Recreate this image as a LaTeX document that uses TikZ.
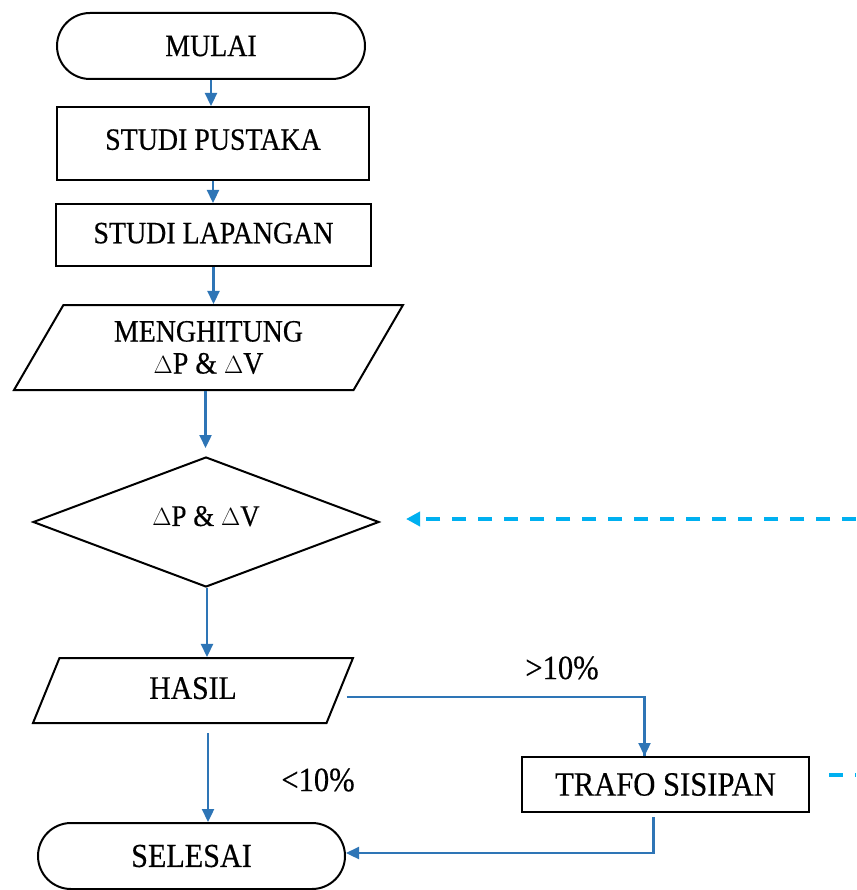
\documentclass[tikz,border=0pt]{standalone}
\usepackage{fontspec}
\setmainfont{Liberation Serif}[FakeStretch=0.9,FakeBold=0.4]
\usetikzlibrary{arrows.meta,shapes.geometric,shapes.misc}
\definecolor{flowblue}{RGB}{46,117,182}
\definecolor{dashblue}{RGB}{0,176,240}
\newcommand{\fsz}[1]{\fontsize{#1}{32}\selectfont}
\begin{document}
\begin{tikzpicture}[x=1pt,y=-1pt,
  every node/.style={font=\fsz{31}},
  box/.style={draw=black,line width=2pt,inner sep=0pt,align=center},
  stadium/.style={box,rectangle,rounded corners=33pt},
  para/.style={box,trapezium,trapezium stretches body},
  decision/.style={box,diamond,shape aspect=2.7},
  arr/.style={draw=flowblue,line width=2.3pt,-{Triangle[length=13pt,width=12pt]}},
  flow/.style={draw=flowblue,line width=2.3pt},
  dashline/.style={draw=dashblue,line width=3.5pt,dash pattern=on 14pt off 12pt},
  dasharr/.style={dashline,-{Triangle[length=14pt,width=14pt]}},
  lbl/.style={inner sep=0pt,font=\fsz{34}}
]
\useasboundingbox (0,0) rectangle (856,890);
\fill[white] (0,0) rectangle (856,890);

\node[stadium,minimum width=308pt,minimum height=66pt] (mulai) at (211,46) {MULAI};
\node[box,rectangle,minimum width=312pt,minimum height=73pt] (pustaka) at (213,143.5) {\raisebox{8pt}{STUDI PUSTAKA}};
\node[box,rectangle,minimum width=315pt,minimum height=62pt] (lapangan) at (213.5,235) {\raisebox{4pt}{STUDI LAPANGAN}};
\node[para,trapezium left angle=47,trapezium right angle=133,minimum width=389pt,minimum height=85pt] (hitung) at (208.5,347.5) {MENGHITUNG\\$\Delta$P \& $\Delta$V};
\node[decision,minimum width=346pt,minimum height=130pt,font=\fsz{30}] (cek) at (206,522) {\raisebox{12pt}{$\Delta$P \& $\Delta$V}};
\node[para,trapezium left angle=45.4,trapezium right angle=134.6,minimum width=320pt,minimum height=65pt,font=\fsz{33}] (hasil) at (193,690.5) {\raisebox{5pt}{HASIL}};
\node[stadium,minimum width=307pt,minimum height=66pt,font=\fsz{33.5}] (selesai) at (191.5,856) {SELESAI};
\node[box,rectangle,minimum width=287pt,minimum height=55pt,font=\fsz{34}] (trafo) at (665.5,784.5) {TRAFO SISIPAN};

\node[lbl] (gt) at (562,668) {>10\%};
\node[lbl] (lt) at (318,780) {<10\%};

\coordinate (edgeA) at (856,775);
\coordinate (edgeB) at (856,519);

\draw[arr] (mulai.south) -- (mulai.south |- pustaka.north);
\draw[arr] (pustaka.south) -- (pustaka.south |- lapangan.north);
\draw[arr] (lapangan.south) -- (lapangan.south |- hitung.north);
\draw[arr,shorten >=8pt] ([xshift=-3pt]hitung.south) -- ([xshift=-3pt]hitung.south |- cek.north);
\draw[arr] ([xshift=1pt]cek.south) -- ([xshift=1pt]cek.south |- hasil.north);
\draw[arr,shorten <=9pt] ([xshift=15pt]hasil.south) -- ([xshift=15pt]hasil.south |- selesai.north);
\draw[flow] ([xshift=6pt,yshift=-6.5pt]hasil.east) -| ([xshift=-21pt]trafo.north);
\draw[arr] ([xshift=-21pt]trafo.north) ++(0,-58) -- ([xshift=-21pt]trafo.north);
\draw[arr] ([xshift=-12pt,yshift=-4pt]trafo.south) |- ([yshift=3pt]selesai.east);
\draw[dashline] ([xshift=19pt,yshift=9.5pt]trafo.east) -- (edgeA);
\draw[dasharr] (edgeB) -- ([xshift=26pt,yshift=3pt]cek.east);
\end{tikzpicture}
\end{document}
